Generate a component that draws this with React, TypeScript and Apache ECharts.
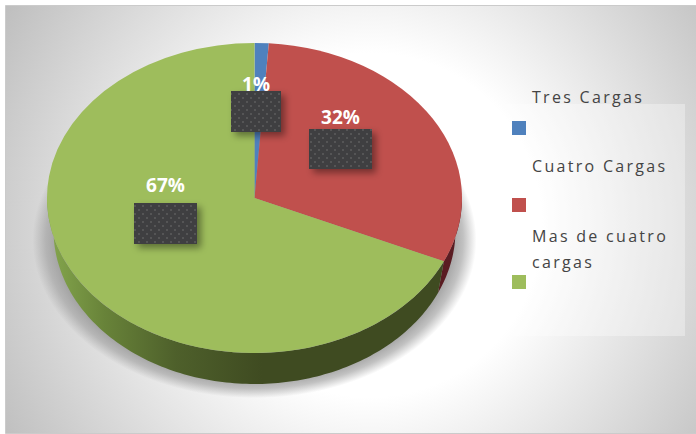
import React, { useEffect, useRef } from "react";
import * as echarts from "echarts";

const categories = ["Tres Cargas", "Cuatro Cargas", "Mas de cuatro\ncargas"];
// Apparent share of the ellipse's angle, as drawn in the perspective of the picture
const sliceValues = [1.1, 30.6, 68.3];
const percentLabels = ["1%", "32%", "67%"];
const topColors = ["#4f81bd", "#c0504d", "#9ebd5c"];
const labelBoxes = [
  { x: 231, y: 91, w: 50, h: 41, textY: 84 },
  { x: 309, y: 129, w: 63, h: 40, textY: 117 },
  { x: 134, y: 203, w: 63, h: 41, textY: 185 },
];
const legendRows = [
  { swatchY: 121, lines: [97] },
  { swatchY: 198, lines: [166] },
  { swatchY: 275, lines: [236, 262] },
];

const CX = 254.5;
const CY = 198;
const RX = 207.5;
const RY = 155;
const BOTTOM_CY = 230;
const BOTTOM_RX = 201;
const BOTTOM_RY = 154;
const TAU = Math.PI * 2;
const total = sliceValues.reduce((a, b) => a + b, 0);

const startAngle = (i: number) =>
  (sliceValues.slice(0, i).reduce((a, b) => a + b, 0) / total) * TAU;

function wallPoints(a: number, b: number) {
  const from = Math.max(a, Math.PI / 2);
  const to = Math.min(b, (Math.PI * 3) / 2);
  if (to <= from) return null;
  const steps = Math.ceil((to - from) / 0.02);
  const upper: number[][] = [];
  const lower: number[][] = [];
  for (let s = 0; s <= steps; s++) {
    const t = from + ((to - from) * s) / steps;
    upper.push([CX + RX * Math.sin(t), CY - RY * Math.cos(t)]);
    lower.unshift([CX + BOTTOM_RX * Math.sin(t), BOTTOM_CY - BOTTOM_RY * Math.cos(t)]);
  }
  return upper.concat(lower);
}

const wallFills = [
  "#2f4d73",
  "#5a1c22",
  new echarts.graphic.LinearGradient(
    46,
    0,
    262,
    0,
    [
      { offset: 0, color: "#86a84e" },
      { offset: 0.27, color: "#688339" },
      { offset: 0.6, color: "#4e602b" },
      { offset: 1, color: "#3f4b21" },
    ],
    true
  ),
];

function dotPattern() {
  const c = document.createElement("canvas");
  c.width = 8;
  c.height = 8;
  const g = c.getContext("2d")!;
  g.fillStyle = "#3f3f41";
  g.fillRect(0, 0, 8, 8);
  g.fillStyle = "#555556";
  g.fillRect(2, 1, 2, 2);
  g.fillRect(6, 5, 2, 2);
  return c.toDataURL();
}

export default function App() {
  const ref = useRef<HTMLDivElement>(null);
  useEffect(() => {
    const chart = echarts.init(ref.current!, undefined, { renderer: "svg" });
    const pattern = {
      type: "pattern",
      image: dotPattern(),
      repeat: "repeat",
      imageWidth: 8,
      imageHeight: 8,
    };
    const legendGraphics: any[] = [];
    categories.forEach((name, i) => {
      const row = legendRows[i];
      legendGraphics.push({
        type: "rect",
        z: 1,
        shape: { x: 512, y: row.swatchY, width: 14, height: 14 },
        style: { fill: topColors[i] },
      });
      name.split("\n").forEach((line, j) => {
        legendGraphics.push({
          type: "text",
          z: 1,
          x: 532,
          y: row.lines[j],
          style: {
            text: line,
            fill: "#444444",
            font: '16px "Open Sans"',
            textAlign: "left",
            textVerticalAlign: "middle",
          },
        });
      });
    });
    chart.setOption({
      animation: false,
      backgroundColor: "#ffffff",
      graphic: [
        {
          type: "rect",
          z: -3,
          shape: { x: 5.5, y: 5.5, width: 691, height: 428 },
          style: {
            fill: new echarts.graphic.RadialGradient(
              370,
              225,
              430,
              [
                { offset: 0, color: "#ffffff" },
                { offset: 0.4, color: "#ffffff" },
                { offset: 1, color: "#bdbdbd" },
              ],
              true
            ),
            stroke: "#cbcbcb",
            lineWidth: 1,
          },
        },
        {
          type: "group",
          z: -2,
          x: CX,
          y: 240,
          scaleY: 158 / 222,
          children: [
            {
              type: "circle",
              z: -2,
              shape: { cx: 0, cy: 0, r: 222 },
              style: {
                fill: new echarts.graphic.RadialGradient(
                  0,
                  0,
                  222,
                  [
                    { offset: 0, color: "rgba(160,160,160,1)" },
                    { offset: 0.88, color: "rgba(160,160,160,1)" },
                    { offset: 0.94, color: "rgba(160,160,160,0.65)" },
                    { offset: 1, color: "rgba(160,160,160,0)" },
                  ],
                  true
                ),
              },
            },
          ],
        },
        {
          type: "rect",
          z: 0,
          shape: { x: 496, y: 104, width: 189, height: 232 },
          style: { fill: "rgba(255,255,255,0.33)" },
        },
        ...legendGraphics,
      ],
      series: [
        {
          type: "custom",
          coordinateSystem: "none",
          z: 2,
          silent: true,
          data: sliceValues,
          renderItem: (params: any) => {
            const i = params.dataIndex;
            const a = startAngle(i);
            const b = startAngle(i + 1);
            const pts = wallPoints(a, b);
            const children: any[] = [];
            if (pts) {
              children.push({
                type: "polygon",
                shape: { points: pts },
                style: { fill: wallFills[i] },
              });
            }
            children.push({
              type: "group",
              x: CX,
              y: CY,
              scaleY: RY / RX,
              children: [
                {
                  type: "sector",
                  shape: {
                    cx: 0,
                    cy: 0,
                    r: RX,
                    r0: 0,
                    startAngle: a - Math.PI / 2,
                    endAngle: b - Math.PI / 2,
                    clockwise: true,
                  },
                  style: { fill: topColors[i] },
                },
              ],
            });
            return { type: "group", children };
          },
        },
        {
          type: "custom",
          coordinateSystem: "none",
          z: 3,
          silent: true,
          data: sliceValues,
          renderItem: (params: any) => {
            const box = labelBoxes[params.dataIndex];
            return {
              type: "group",
              children: [
                {
                  type: "rect",
                  shape: { x: box.x, y: box.y, width: box.w, height: box.h },
                  style: {
                    fill: "#3f3f41",
                    shadowBlur: 7,
                    shadowOffsetX: 4,
                    shadowOffsetY: 4,
                    shadowColor: "rgba(0,0,0,0.4)",
                  },
                },
                {
                  type: "rect",
                  shape: { x: box.x, y: box.y, width: box.w, height: box.h },
                  style: { fill: pattern },
                },
                {
                  type: "text",
                  x: box.x + box.w / 2,
                  y: box.textY,
                  style: {
                    text: percentLabels[params.dataIndex],
                    fill: "#ffffff",
                    font: 'bold 19px "Open Sans"',
                    textAlign: "center",
                    textVerticalAlign: "middle",
                  },
                },
              ],
            };
          },
        },
      ],
    });
    ref.current!.querySelectorAll("text").forEach((t) => {
      if (!t.textContent?.includes("%")) {
        (t as SVGTextElement).style.letterSpacing = "2.3px";
      }
    });
    return () => chart.dispose();
  }, []);
  return (
    <div
      ref={ref}
      style={{ position: "absolute", left: 0, top: 0, width: 696, height: 434 }}
    />
  );
}
